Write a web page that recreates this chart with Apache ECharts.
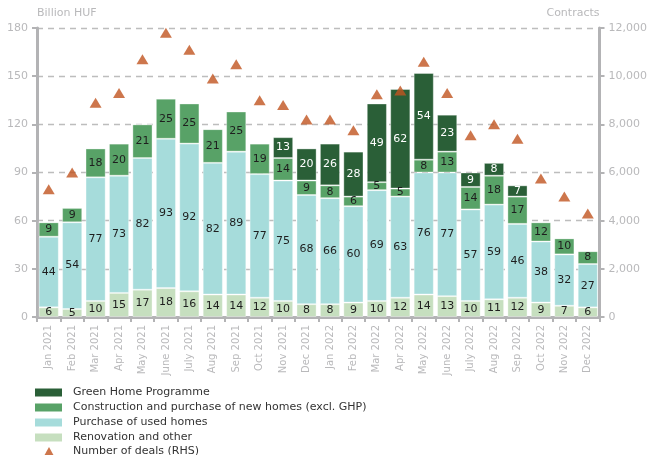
<!DOCTYPE html>
<html>
<head>
<meta charset="utf-8">
<script src="https://cdn.jsdelivr.net/npm/echarts@6/dist/echarts.min.js"></script>
<style>
  html, body { margin: 0; padding: 0; background: #fff; }
  #chart { width: 650px; height: 455px; }
</style>
</head>
<body>
<div id="chart"></div>
<script>
// Monthly housing loan volumes by purpose (billion HUF) and number of deals
const months = [
  'Jan 2021', 'Feb 2021', 'Mar 2021', 'Apr 2021', 'May 2021', 'June 2021',
  'July 2021', 'Aug 2021', 'Sep 2021', 'Oct 2021', 'Nov 2021', 'Dec 2021',
  'Jan 2022', 'Feb 2022', 'Mar 2022', 'Apr 2022', 'May 2022', 'June 2022',
  'July 2022', 'Aug 2022', 'Sep 2022', 'Oct 2022', 'Nov 2022', 'Dec 2022'
];
const renovation = [6, 5, 10, 15, 17, 18, 16, 14, 14, 12, 10, 8, 8, 9, 10, 12, 14, 13, 10, 11, 12, 9, 7, 6];
const usedHomes = [44, 54, 77, 73, 82, 93, 92, 82, 89, 77, 75, 68, 66, 60, 69, 63, 76, 77, 57, 59, 46, 38, 32, 27];
const newHomes = [9, 9, 18, 20, 21, 25, 25, 21, 25, 19, 14, 9, 8, 6, 5, 5, 8, 13, 14, 18, 17, 12, 10, 8];
const greenHome = [0, 0, 0, 0, 0, 0, 0, 0, 0, 0, 13, 20, 26, 28, 49, 62, 54, 23, 9, 8, 7, 0, 0, 0];
const deals = [5300, 6000, 8900, 9300, 10700, 11800, 11100, 9900, 10500, 9000, 8800, 8200,
               8200, 7750, 9250, 9400, 10600, 9300, 7550, 8000, 7400, 5750, 5000, 4300];

const FONT = '"DejaVu Sans", "Noto Sans", sans-serif';
const AXIS_GREY = '#b3b3b5';
const TEXT_GREY = '#b9b9bb';
const DEAL_COLOR = '#c0541f';

function barSeries(name, data, color, labelColor) {
  return {
    name: name,
    type: 'bar',
    stack: 'loans',
    data: data,
    barCategoryGap: '14%',
    itemStyle: { color: color, borderColor: 'rgba(255,255,255,0.35)', borderWidth: 1 },
    label: {
      show: true,
      position: 'inside',
      color: labelColor,
      fontFamily: FONT,
      fontSize: 11,
      formatter: p => (p.value ? String(p.value) : '')
    },
    emphasis: { disabled: true }
  };
}

const legendText = { fontFamily: FONT, fontSize: 11, color: '#333', lineHeight: 13 };

const chart = echarts.init(document.getElementById('chart'), null, { renderer: 'canvas' });
chart.setOption({
  animation: false,
  textStyle: { fontFamily: FONT },
  grid: { left: 37, right: 46, top: 28, bottom: 138, containLabel: false },
  legend: [
    {
      orient: 'vertical',
      left: 35,
      top: 386,
      height: 80,
      padding: 0,
      itemWidth: 27,
      itemHeight: 8,
      itemGap: 2,
      itemStyle: { borderWidth: 0 },
      textStyle: Object.assign({ padding: [0, 0, 0, 6] }, legendText),
      data: [
        { name: 'Green Home Programme', icon: 'rect' },
        { name: 'Construction and purchase of new homes (excl. GHP)', icon: 'rect' },
        { name: 'Purchase of used homes', icon: 'rect' },
        { name: 'Renovation and other', icon: 'rect' }
      ]
    },
    {
      orient: 'vertical',
      left: 44,
      top: 445,
      padding: 0,
      itemWidth: 10,
      itemHeight: 9,
      textStyle: Object.assign({ padding: [0, 0, 0, 14] }, legendText),
      data: [
        { name: 'Number of deals (RHS)', icon: 'triangle', itemStyle: { color: DEAL_COLOR } }
      ]
    }
  ],
  xAxis: {
    type: 'category',
    data: months,
    axisLine: { lineStyle: { color: AXIS_GREY, width: 3 } },
    axisTick: { show: true, alignWithLabel: false, length: 5, lineStyle: { color: AXIS_GREY, width: 2 } },
    axisLabel: { rotate: 90, color: TEXT_GREY, fontSize: 10, fontFamily: FONT, margin: 8 }
  },
  yAxis: [
    {
      type: 'value',
      min: 0, max: 180, interval: 30,
      name: 'Billion HUF',
      nameLocation: 'end',
      nameGap: 9,
      nameTextStyle: { color: TEXT_GREY, fontSize: 11, align: 'left', fontFamily: FONT },
      axisLine: { show: true, lineStyle: { color: AXIS_GREY, width: 3 } },
      axisTick: { show: true, length: 5, lineStyle: { color: AXIS_GREY, width: 2 } },
      axisLabel: { color: TEXT_GREY, fontSize: 11, fontFamily: FONT, margin: 9 },
      splitLine: { show: true, lineStyle: { color: '#bdbdbd', type: [6, 5], width: 1.3 } }
    },
    {
      type: 'value',
      position: 'right',
      min: 0, max: 12000, interval: 2000,
      name: 'Contracts',
      nameLocation: 'end',
      nameGap: 9,
      nameTextStyle: { color: TEXT_GREY, fontSize: 11, align: 'right', fontFamily: FONT },
      axisLine: { show: true, lineStyle: { color: AXIS_GREY, width: 3 } },
      axisTick: { show: true, length: 5, lineStyle: { color: AXIS_GREY, width: 2 } },
      axisLabel: {
        color: TEXT_GREY, fontSize: 11, fontFamily: FONT, margin: 9,
        formatter: v => v.toLocaleString('en-US')
      },
      splitLine: { show: false }
    }
  ],
  series: [
    barSeries('Renovation and other', renovation, '#c6dfbf', '#1e1e1e'),
    barSeries('Purchase of used homes', usedHomes, '#a6dcdb', '#1e1e1e'),
    barSeries('Construction and purchase of new homes (excl. GHP)', newHomes, '#58a267', '#1e1e1e'),
    barSeries('Green Home Programme', greenHome, '#2a5f37', '#ffffff'),
    {
      name: 'Number of deals (RHS)',
      type: 'scatter',
      yAxisIndex: 1,
      data: deals,
      symbol: 'triangle',
      symbolSize: [12, 10],
      itemStyle: { color: DEAL_COLOR },
      z: 5,
      emphasis: { disabled: true }
    }
  ]
});
</script>
</body>
</html>
